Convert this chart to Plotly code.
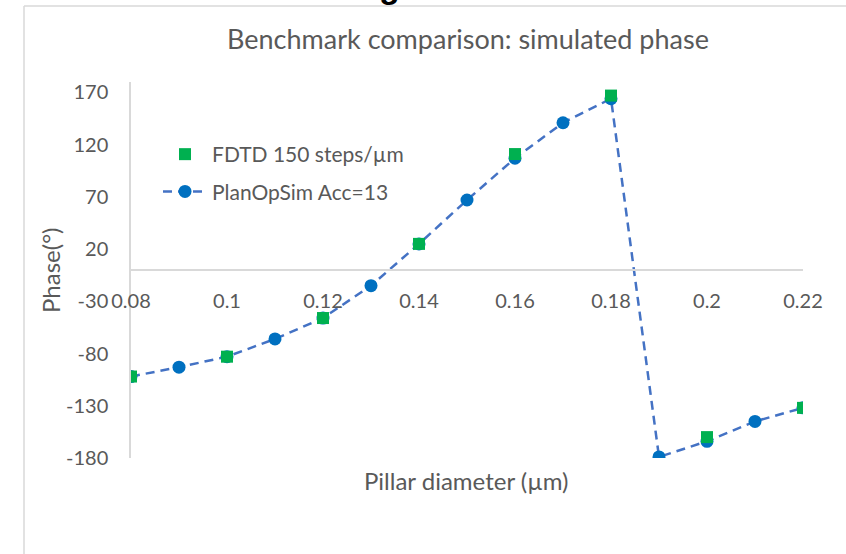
import plotly.graph_objects as go

# ---- data ----
diam_planopsim = [0.08, 0.09, 0.10, 0.11, 0.12, 0.13, 0.14, 0.15, 0.16, 0.17, 0.18, 0.19, 0.20, 0.21, 0.22]
phase_planopsim = [-102, -93, -83, -66, -46, -15, 25, 67, 107, 141, 164, -179, -164, -145, -132]

diam_fdtd = [0.08, 0.10, 0.12, 0.14, 0.16, 0.18, 0.20, 0.22]
phase_fdtd = [-102, -83, -46, 25, 111, 167, -160, -132]

x_ticks = [0.08, 0.10, 0.12, 0.14, 0.16, 0.18, 0.20, 0.22]
x_ticktext = ["0.08", "0.1", "0.12", "0.14", "0.16", "0.18", "0.2", "0.22"]
y_ticks = [-180, -130, -80, -30, 20, 70, 120, 170]
y_ticktext = ["-180", "-130", "-80", "-30", "20", "70", "120", "170"]

FONT = "Lato"
GRAY = "#595959"
AXIS = "#d9d9d9"

W, H = 846, 554
ML, MR, MT, MB = 131, 43, 82, 96
PW, PH = W - ML - MR, H - MT - MB


def px(xp):
    return (xp - ML) / PW


def py(yp):
    return (H - MB - yp) / PH


fig = go.Figure()

fig.add_trace(go.Scatter(
    x=diam_planopsim, y=phase_planopsim,
    mode="lines+markers",
    name="PlanOpSim Acc=13",
    line=dict(color="#4472C4", width=2.5, dash="9px,6px"),
    marker=dict(symbol="circle", size=13, color="#0070C0"),
    legendrank=2,
    legendgroup="b",
))

fig.add_trace(go.Scatter(
    x=diam_fdtd, y=phase_fdtd,
    mode="markers",
    name="FDTD 150 steps/\u00b5m",
    marker=dict(symbol="square", size=12, color="#00B050"),
    legendrank=1,
    legendgroup="a",
))

fig.update_layout(
    width=W, height=H,
    margin=dict(l=ML, r=MR, t=MT, b=MB),
    paper_bgcolor="white",
    plot_bgcolor="white",
    font=dict(family=FONT, color=GRAY, size=20),
    title=dict(
        text="Benchmark comparison: simulated phase",
        font=dict(family=FONT, size=27, color=GRAY),
        xref="paper", x=px(468), xanchor="center",
        yref="container", y=1 - 40 / H, yanchor="middle",
    ),
    showlegend=True,
    legend=dict(
        x=px(158), y=py(134), xanchor="left", yanchor="top",
        bgcolor="rgba(0,0,0,0)",
        font=dict(family=FONT, size=21, color=GRAY),
        itemwidth=44,
        traceorder="grouped",
        tracegroupgap=7,
    ),
    xaxis=dict(
        range=[0.08, 0.22],
        tickmode="array", tickvals=x_ticks, ticktext=x_ticktext,
        showgrid=False, zeroline=False,
        showline=True, linecolor=AXIS, linewidth=1.5,
        anchor="free", position=0.5,
        ticks="", ticklabelstandoff=13,
        tickfont=dict(family=FONT, size=20, color=GRAY),
    ),
    yaxis=dict(
        range=[-180, 180],
        tickmode="array", tickvals=y_ticks, ticktext=y_ticktext,
        showgrid=False, zeroline=False,
        showline=True, linecolor=AXIS, linewidth=1.5,
        ticks="", ticklabelstandoff=17,
        tickfont=dict(family=FONT, size=20, color=GRAY),
    ),
    annotations=[
        dict(text="Phase(\u00b0)", textangle=-90, xref="paper", yref="paper",
             x=px(50), y=py(270), xanchor="center", yanchor="middle",
             showarrow=False, font=dict(family=FONT, size=24, color=GRAY)),
        dict(text="Pillar diameter (\u00b5m)", xref="paper", yref="paper",
             x=px(466), y=py(480), xanchor="center", yanchor="middle",
             showarrow=False, font=dict(family=FONT, size=24, color=GRAY)),
        dict(text="<b>g</b>", xref="paper", yref="paper",
             x=px(389), y=py(7), xanchor="center", yanchor="bottom",
             showarrow=False, font=dict(family="Liberation Sans", size=34, color="black")),
    ],
    shapes=[
        dict(type="line", xref="paper", yref="paper",
             x0=px(24), x1=px(W + 5), y0=py(6), y1=py(6),
             line=dict(color=AXIS, width=1.5)),
        dict(type="line", xref="paper", yref="paper",
             x0=px(24), x1=px(24), y0=py(6), y1=py(H + 5),
             line=dict(color=AXIS, width=1.5)),
    ],
)

fig.write_html(
    "out.html",
    config={"displayModeBar": False},
    post_script="document.body.style.margin='0';document.body.style.overflow='hidden';",
)
